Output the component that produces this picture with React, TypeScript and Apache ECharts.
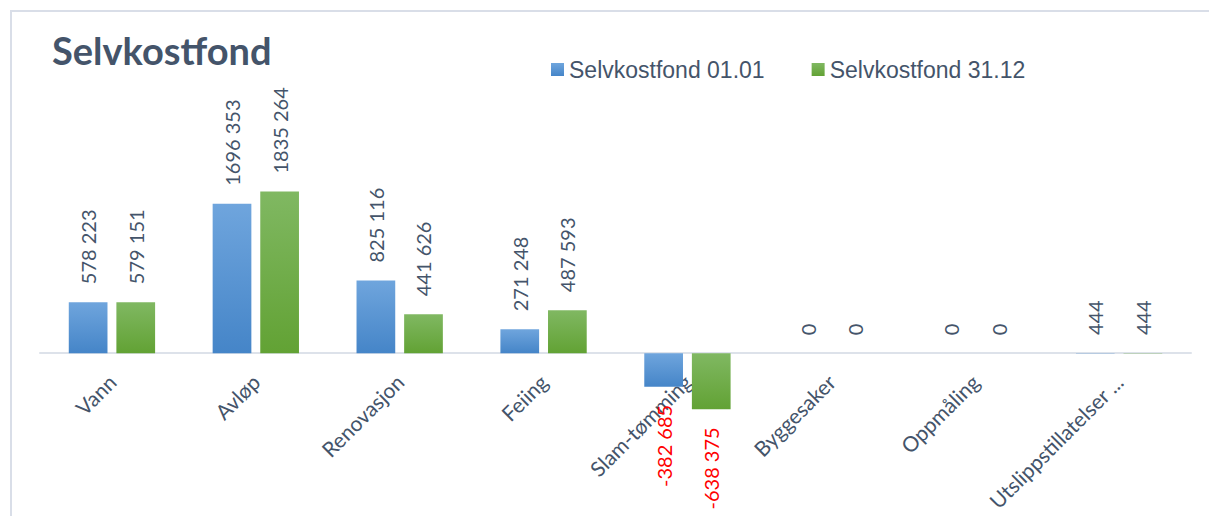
import React, { useEffect, useRef } from "react";
import * as echarts from "echarts";

const categories = ["Vann", "Avløp", "Renovasjon", "Feiing", "Slam-tømming", "Byggesaker", "Oppmåling", "Utslippstillatelser ..."];
const fond0101 = [578223, 1696353, 825116, 271248, -382685, 0, 0, 444];
const fond3112 = [579151, 1835264, 441626, 487593, -638375, 0, 0, 444];
const seriesNames = ["Selvkostfond 01.01", "Selvkostfond 31.12"];
const titleText = "Selvkostfond";

const TEXT = "#44546A";

function fmt(v: number): string {
  const s = Math.abs(v).toString();
  const body = s.length > 3 ? s.slice(0, -3) + " " + s.slice(-3) : s;
  return (v < 0 ? "-" : "") + body;
}

function makeData(values: number[]) {
  return values.map((v) => {
    if (v < 0) {
      return {
        value: v,
        label: {
          position: "bottom",
          align: "right",
          color: "#FF0000",
        },
      };
    }
    return { value: v };
  });
}

export default function App() {
  const ref = useRef<HTMLDivElement>(null);
  useEffect(() => {
    if (!ref.current) return;
    const chart = echarts.init(ref.current, undefined, { renderer: "svg" });
    const blue = new echarts.graphic.LinearGradient(0, 0, 0, 1, [
      { offset: 0, color: "#6FA5DD" },
      { offset: 1, color: "#4585C8" },
    ]);
    const green = new echarts.graphic.LinearGradient(0, 0, 0, 1, [
      { offset: 0, color: "#80B862" },
      { offset: 1, color: "#62A234" },
    ]);
    const label = {
      show: true,
      position: "top",
      rotate: 90,
      align: "left",
      verticalAlign: "middle",
      distance: 18,
      fontFamily: "Lato",
      fontSize: 20,
      color: TEXT,
      formatter: (p: any) => fmt(p.value),
    };
    chart.setOption({
      animation: false,
      title: {
        text: titleText,
        left: 47,
        top: 26,
        textStyle: { fontFamily: "Lato", fontWeight: "bold", fontSize: 38, color: TEXT },
      },
      legend: {
        left: 546,
        top: 53,
        itemWidth: 13,
        itemHeight: 13,
        itemGap: 47,
        icon: "rect",
        textStyle: { fontFamily: "Liberation Sans", fontSize: 23, color: TEXT },
        data: seriesNames,
      },
      graphic: [
        {
          type: "rect",
          shape: { x: 11, y: 11, width: 1300, height: 600 },
          style: { fill: "none", stroke: "#D9DEE8", lineWidth: 2 },
          silent: true,
        },
      ],
      grid: { left: 40, right: 18, top: 89, bottom: 22, containLabel: false, outerBoundsMode: "none" },
      xAxis: {
        type: "category",
        data: categories,
        position: "bottom",
        offset: -141,
        axisLine: { onZero: false, lineStyle: { color: "#DDE2EA", width: 2 } },
        axisTick: { show: false },
        axisLabel: {
          interval: 0,
          rotate: 45,
          margin: 25,
          fontFamily: "Lato",
          fontSize: 21,
          color: TEXT,
        },
      },
      yAxis: {
        type: "value",
        min: -1600000,
        max: 3000000,
        show: false,
        splitLine: { show: false },
      },
      series: [
        {
          name: seriesNames[0],
          type: "bar",
          data: makeData(fond0101),
          barGap: "23%",
          barCategoryGap: "40%",
          itemStyle: { color: blue },
          label,
        },
        {
          name: seriesNames[1],
          type: "bar",
          data: makeData(fond3112),
          barGap: "23%",
          barCategoryGap: "40%",
          itemStyle: { color: green },
          label,
        },
      ],
    });
    return () => chart.dispose();
  }, []);
  return (
    <div
      ref={ref}
      style={{ position: "fixed", left: 0, top: 0, width: 1209, height: 516, background: "#fff" }}
    />
  );
}
